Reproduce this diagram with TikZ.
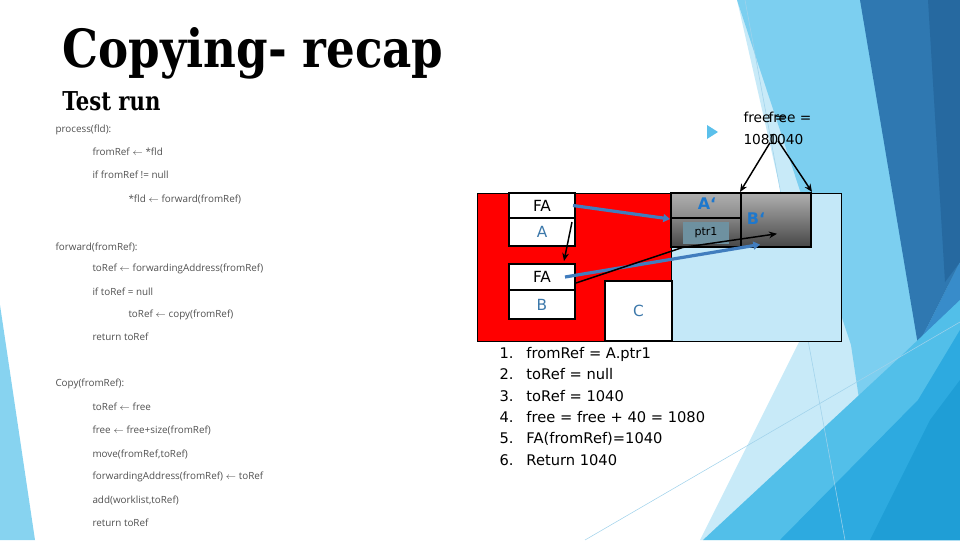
\documentclass[tikz,border=0pt]{standalone}
\usepackage{fontspec}
\setmainfont{DejaVu Sans}
\newfontfamily\codefont{Open Sans}
\newfontfamily\titlefont{DejaVu Serif}
\usetikzlibrary{calc,arrows.meta,positioning}
\newdimen\px \px=0.75pt

\definecolor{skyA}{RGB}{135,211,240}
\definecolor{paleA}{RGB}{200,234,248}
\definecolor{lightA}{RGB}{124,207,240}
\definecolor{darkA}{RGB}{47,120,177}
\definecolor{darkB}{RGB}{38,105,160}
\definecolor{midA}{RGB}{56,140,202}
\definecolor{brightA}{RGB}{82,191,233}
\definecolor{brightB}{RGB}{45,170,224}
\definecolor{brightC}{RGB}{31,158,214}
\definecolor{tospace}{RGB}{196,232,248}
\definecolor{labelblue}{RGB}{60,120,170}
\definecolor{copyblue}{RGB}{30,120,205}
\definecolor{ptrfill}{RGB}{110,145,160}
\definecolor{arrowblue}{RGB}{65,125,190}
\definecolor{codegray}{RGB}{80,80,80}

\tikzset{every picture/.style={line width=0.75pt}}
\tikzset{
  cell/.style={draw=black, line width=1.5pt, fill=white, minimum width=66\px, inner sep=0pt, font=\fontsize{11.5}{13}\selectfont},
  graycell/.style={draw=black, line width=1.5pt, minimum width=70\px, inner sep=0pt},
  codeline/.style={anchor=west, inner sep=0pt, text=codegray, font=\codefont\fontsize{7.4}{9}\selectfont},
  copylabel/.style={text=copyblue, inner sep=0pt, font=\bfseries\fontsize{12}{14}\selectfont},
  blueptr/.style={draw=arrowblue, line width=2.4pt, -{Triangle[length=5pt,width=6pt]}},
  blackptr/.style={draw=black, line width=1.1pt, -{Stealth[length=6pt,width=5pt]}},
  freetext/.style={anchor=north west, inner sep=0pt, align=left, font=\fontsize{10.3}{15.8}\selectfont},
}

\begin{document}
\begin{tikzpicture}[x=0.75pt,y=0.75pt,yscale=-1,xscale=1]
    \path[use as bounding box] (0,0) rectangle (960,540);

    %Shape: background facets
    \fill[skyA] (0,305) -- (35,540) -- (0,540) -- cycle ;
    \fill[paleA] (737,0) -- (960,0) -- (960,540) -- (700,540) -- (810,320) -- cycle ;
    \fill[lightA] (737,0) -- (960,0) -- (960,540) -- (880,540) -- (851,345) -- cycle ;
    \fill[midA] (918,345) -- (960,262) -- (960,440) -- (905,440) -- cycle ;
    \fill[darkA] (860,0) -- (960,0) -- (960,262) -- (918,345) -- cycle ;
    \fill[darkB] (928,0) -- (960,0) -- (960,262) -- (945,282) -- cycle ;
    \fill[brightA] (703,540) -- (900,357) -- (960,300) -- (960,540) -- cycle ;
    \fill[brightB] (780,540) -- (918,400) -- (960,330) -- (960,540) -- cycle ;
    \fill[brightC] (870,540) -- (930,420) -- (960,380) -- (960,540) -- cycle ;
    %Straight Lines: thin facet edges
    \draw[color={rgb, 255:red, 160; green, 210; blue, 235}, line width=0.4pt] (745,0) -- (845,540) ;
    \draw[color={rgb, 255:red, 160; green, 210; blue, 235}, line width=0.4pt] (585,540) -- (960,322) ;

    % Text Node
    \node[anchor=base west, inner sep=0pt] (title) at (62,67) {\resizebox{285.75pt}{30pt}{\titlefont\bfseries Copying- recap}};
    % Text Node
    \node[anchor=base west, inner sep=0pt] (subtitle) at (62,110) {\resizebox{73.5pt}{14.2pt}{\titlefont\bfseries Test run}};

    % Text Node: code lines
    \node[codeline] (c1) at (55,130) {process(fld):};
    \node[codeline] (c2) at (92,152) {fromRef $\leftarrow$ *fld};
    \node[codeline] (c3) at (92,175) {if fromRef != null};
    \node[codeline] (c4) at (128,199) {*fld $\leftarrow$ forward(fromRef)};
    \node[codeline] (c5) at (55,247) {forward(fromRef):};
    \node[codeline] (c6) at (92,269) {toRef $\leftarrow$ forwardingAddress(fromRef)};
    \node[codeline] (c7) at (92,292) {if toRef = null};
    \node[codeline] (c8) at (128,315) {toRef $\leftarrow$ copy(fromRef)};
    \node[codeline] (c9) at (92,337) {return toRef};
    \node[codeline] (c10) at (55,384) {Copy(fromRef):};
    \node[codeline] (c11) at (92,407) {toRef $\leftarrow$ free};
    \node[codeline] (c12) at (92,430) {free $\leftarrow$ free+size(fromRef)};
    \node[codeline] (c13) at (92,454) {move(fromRef,toRef)};
    \node[codeline] (c14) at (92,477) {forwardingAddress(fromRef) $\leftarrow$ toRef};
    \node[codeline] (c15) at (92,500) {add(worklist,toRef)};
    \node[codeline] (c16) at (92,523) {return toRef};

    %Shape: Rectangle (from space / to space)
    \node[draw=black, fill=red, line width=0.75pt, minimum width=194\px, minimum height=148\px, inner sep=0pt] (fromspace) at (574,267) {};
    \node[draw=black, fill=tospace, line width=0.75pt, minimum width=170\px, minimum height=148\px, inner sep=0pt] (tospace) at (756,267) {};

    %Shape: object A
    \node[cell, minimum height=25\px] (fa1) at (542,205.5) {FA};
    \node[cell, minimum height=28\px, text=labelblue] (refa) at (542,232) {A};
    %Shape: object B
    \node[cell, minimum height=26\px] (fa2) at (542,277) {FA};
    \node[cell, minimum height=29\px, text=labelblue] (refb) at (542,304.5) {B};
    %Shape: object C
    \node[cell, minimum width=67\px, minimum height=60\px, text=labelblue] (objc) at (638.5,311) {C};

    %Shape: copied objects
    \node[graycell, minimum height=25\px, top color={rgb,255:red,175;green,175;blue,175}, bottom color={rgb,255:red,138;green,138;blue,138}] (acopy) at (706,205.5) {};
    \node[graycell, minimum height=28.5\px, top color={rgb,255:red,132;green,132;blue,132}, bottom color={rgb,255:red,72;green,72;blue,72}] (ptrcell) at (706,232.25) {};
    \node[graycell, minimum height=53.5\px, top color={rgb,255:red,175;green,175;blue,175}, bottom color={rgb,255:red,72;green,72;blue,72}] (bcopy) at (776,219.75) {};
    \node[fill=ptrfill, minimum width=46\px, minimum height=22\px, inner sep=0pt, font=\fontsize{8.3}{10}\selectfont] (ptrbox) at (706,233) {ptr1};

    % Text Node
    \node[copylabel] (alabel) at (707,204) {A\symbol{96}};
    % Text Node
    \node[copylabel] (blabel) at (756,219) {B\symbol{96}};

    %Straight Lines: pointers
    \draw[blueptr] ([xshift=-3\px]fa1.east) -- (acopy.south west) ;
    \draw[blackptr] ($(refa.north east)+(-4,5)$) -- ($(fa2.north east)+(-12,-2)$) ;
    \draw[blueptr] ($(fa2.center)+(23,0)$) -- ($(bcopy.south)+(-16,-3)$) ;
    \draw[blackptr] ($(fa2.east)+(0,6)$) -- ($(ptrbox.south west)+(0,3)$) -- ($(bcopy.center)+(1,14)$) ;

    % Text Node: free pointer
    \node[freetext] (free1) at (743,112) {free =\\1080};
    \node[freetext] (free2) at (768,112) {free =\\1040};
    \draw[blackptr] ($(free2.south west)+(2,-2)$) -- (bcopy.north west) ;
    \draw[blackptr] ($(free2.south west)+(10,-4)$) -- (bcopy.north east) ;

    %Shape: bullet
    \fill[color={rgb, 255:red, 91; green, 192; blue, 235}] (707,125) -- (718,132) -- (707,139) -- cycle ;

    % Text Node: steps
    \node[anchor=north west, inner sep=0pt, align=left, font=\fontsize{11}{16}\selectfont] (steps) at (499,347) {%
      \makebox[27\px][l]{1.}fromRef = A.ptr1\\
      \makebox[27\px][l]{2.}toRef = null\\
      \makebox[27\px][l]{3.}toRef = 1040\\
      \makebox[27\px][l]{4.}free = free + 40 = 1080\\
      \makebox[27\px][l]{5.}FA(fromRef)=1040\\
      \makebox[27\px][l]{6.}Return 1040};

\end{tikzpicture}
\end{document}
